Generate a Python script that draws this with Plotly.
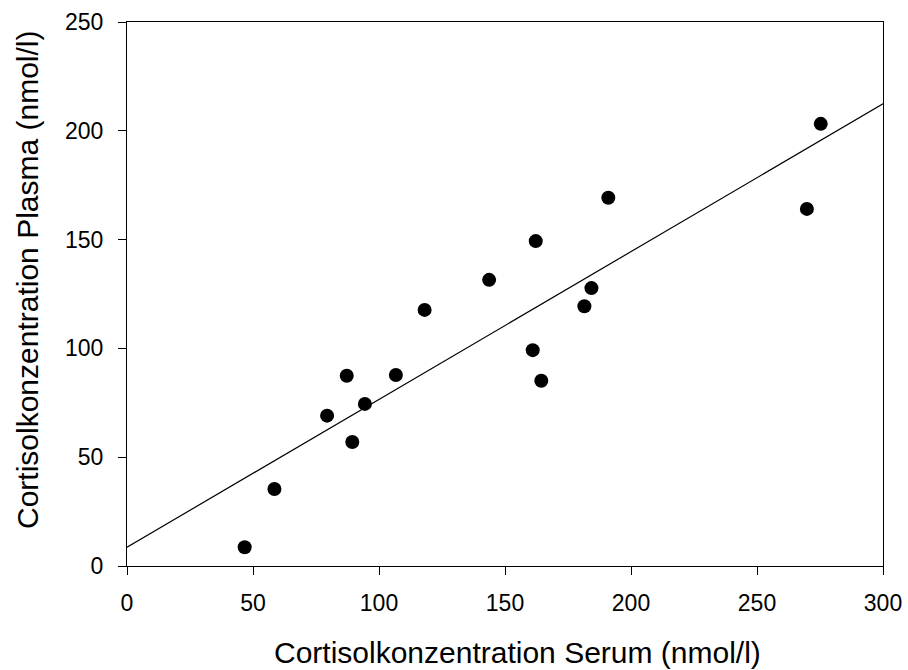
import numpy as np
import plotly.graph_objects as go

serum = [46.7, 58.5, 79.4, 87.2, 89.4, 94.4, 106.7, 118.1, 143.7, 161.0, 162.2,
         164.4, 181.5, 184.3, 191.0, 269.8, 275.3]
plasma = [8.6, 35.4, 69.1, 87.4, 57.0, 74.5, 87.8, 117.7, 131.5, 99.2, 149.3,
          85.1, 119.4, 127.7, 169.2, 164.1, 203.2]

x_title = "Cortisolkonzentration Serum (nmol/l)"
y_title = "Cortisolkonzentration Plasma (nmol/l)"

slope, intercept = np.polyfit(serum, plasma, 1)
line_x = [0, 300]
line_y = [intercept + slope * v for v in line_x]

fig = go.Figure()
fig.add_trace(go.Scatter(x=line_x, y=line_y, mode="lines",
                         line=dict(color="black", width=1.2), showlegend=False,
                         hoverinfo="skip"))
fig.add_trace(go.Scatter(x=serum, y=plasma, mode="markers",
                         marker=dict(color="black", size=14), showlegend=False))

font = "Liberation Sans, Arial, sans-serif"
axis_common = dict(showline=True, linecolor="black", linewidth=1.3, mirror=True,
                   ticks="outside", ticklen=8, tickwidth=1.2, tickcolor="black",
                   showgrid=False, zeroline=False, automargin=False,
                   tickfont=dict(family=font, size=23, color="black"))
fig.update_layout(
    width=908, height=670,
    margin=dict(l=127, r=25, t=22, b=104),
    plot_bgcolor="white", paper_bgcolor="white",
    xaxis=dict(range=[0, 300], tickvals=[0, 50, 100, 150, 200, 250, 300],
               ticklabelstandoff=8, **axis_common),
    yaxis=dict(range=[0, 250], tickvals=[0, 50, 100, 150, 200, 250],
               ticklabelstandoff=10, **axis_common),
    annotations=[
        dict(text=x_title, xref="paper", yref="paper",
             x=(517 - 127) / 756, y=(566 - 652) / 544,
             xanchor="center", yanchor="middle", showarrow=False,
             font=dict(family=font, size=30, color="black")),
        dict(text=y_title, xref="paper", yref="paper", textangle=-90,
             x=(27 - 127) / 756, y=(566 - 280) / 544,
             xanchor="center", yanchor="middle", showarrow=False,
             font=dict(family=font, size=30, color="black")),
    ],
)
fig.write_html("out.html")
